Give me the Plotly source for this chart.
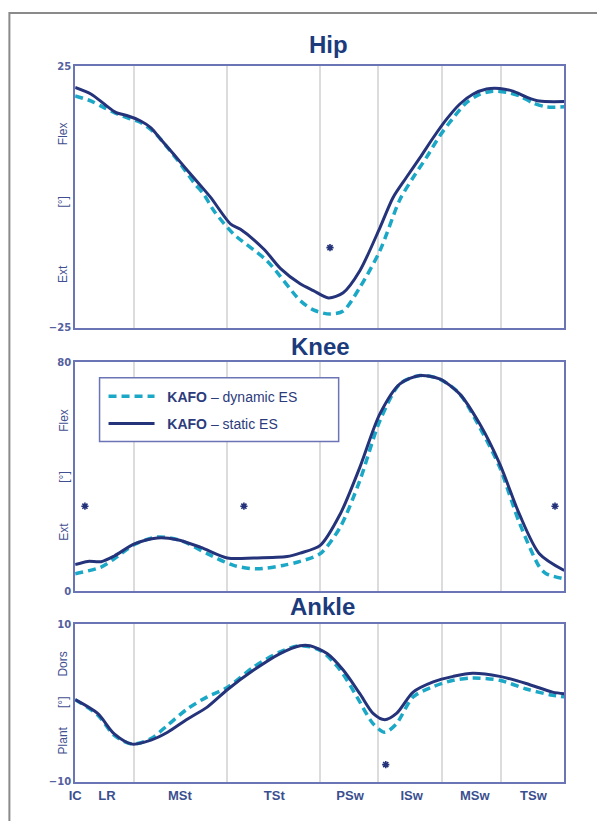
import plotly.graph_objects as go

W, H = 597, 821

# ---------------- data (gait cycle %, joint angle in degrees) ----------------
hip_static_pct = [0, 3.3, 6.0, 8.4, 10.7, 13.4, 15.5, 17.5, 20.2, 23.0, 25.7, 27.7, 31.8, 33.8, 38.6, 42.0,
                  46.0, 48.7, 51.8, 54.8, 58.2, 62.3, 65.0, 67.7, 70.5, 73.2, 75.9, 78.6, 81.3, 84.1, 86.8,
                  89.5, 92.2, 94.9, 100]
hip_static = [20.9, 19.6, 17.7, 16.1, 15.5, 14.5, 13.2, 11.0, 8.1, 5.0, 2.1, -0.1, -5.2, -6.2, -10.0, -13.7,
              -16.6, -17.9, -19.3, -18.3, -14.1, -5.9, -0.1, 3.7, 7.5, 11.3, 14.8, 17.7, 19.6, 20.6, 20.7,
              20.2, 19.1, 18.3, 18.2]
hip_dynamic_pct = [0, 3.3, 6.0, 8.7, 10.7, 13.4, 16.2, 18.9, 21.6, 24.3, 26.3, 28.4, 32.4, 39.2, 46.0, 48.7,
                   52.1, 54.8, 58.2, 62.3, 66.4, 69.1, 71.8, 74.5, 77.3, 80.0, 82.7, 85.4, 88.1, 90.8, 93.5,
                   96.3, 100]
hip_dynamic = [19.3, 18.3, 17.0, 15.8, 15.1, 14.2, 12.3, 9.4, 6.2, 2.7, 0.5, -2.7, -7.1, -12.2, -19.8, -21.6,
               -22.4, -21.8, -17.3, -10.3, -0.5, 3.7, 7.5, 11.6, 15.1, 18.0, 19.6, 20.2, 20.0, 19.3, 18.0,
               17.2, 17.2]

knee_static_pct = [0, 2.6, 5.3, 8.0, 12.1, 16.8, 20.9, 25.7, 31.1, 36.5, 43.3, 46.0, 50.1, 54.2, 58.2, 62.3,
                   66.4, 70.5, 74.5, 78.6, 82.7, 86.8, 90.8, 94.9, 100]
knee_static = [9.3, 10.4, 10.3, 12.3, 16.5, 18.6, 18.0, 15.3, 11.6, 11.6, 12.1, 13.3, 16.0, 27.0, 43.3, 62.0,
               72.5, 75.4, 74.2, 69.0, 58.5, 44.5, 27.0, 13.1, 7.2]
knee_dynamic_pct = [0, 5.3, 8.0, 12.1, 16.8, 21.6, 27.0, 32.4, 37.1, 42.5, 46.0, 50.1, 54.2, 58.2, 62.3, 66.4,
                    70.5, 74.5, 78.6, 82.7, 86.8, 90.8, 94.9, 96.3, 100]
knee_dynamic = [6.1, 8.4, 11.3, 16.3, 18.9, 17.7, 13.1, 9.0, 7.8, 9.0, 10.4, 13.1, 22.4, 38.7, 59.6, 72.5,
                75.4, 74.2, 69.0, 57.3, 43.3, 24.0, 8.5, 6.1, 4.3]

ankle_static_pct = [0, 4.6, 8.0, 11.7, 15.5, 18.9, 23.0, 27.0, 31.1, 36.5, 41.9, 46.0, 48.0, 51.5, 54.8, 58.2,
                    60.9, 63.3, 65.7, 69.1, 73.2, 77.3, 81.3, 86.8, 92.2, 97.6, 100]
ankle_static = [0.45, -1.3, -3.9, -5.2, -4.7, -3.7, -2.0, -0.5, 1.7, 4.2, 6.3, 7.3, 7.3, 6.3, 4.2, 1.2,
                -1.3, -2.1, -1.3, 1.4, 2.7, 3.4, 3.8, 3.4, 2.5, 1.4, 1.2]
ankle_dynamic_pct = [0, 4.6, 8.0, 11.7, 15.5, 18.9, 23.0, 27.0, 31.1, 36.5, 41.9, 46.0, 50.1, 54.2, 57.6, 60.9,
                     63.3, 65.7, 69.1, 73.2, 77.3, 81.3, 86.8, 92.2, 97.6, 100]
ankle_dynamic = [0.45, -1.5, -4.1, -5.2, -4.5, -2.8, -0.7, 0.8, 2.0, 4.6, 6.5, 7.3, 6.7, 4.2, 0.8, -2.6,
                 -3.7, -2.6, 0.8, 2.1, 2.9, 3.2, 2.9, 1.8, 1.0, 0.8]

# significance markers (*)
sig_hip_pct, sig_hip = [52.1], [-9.7]
sig_knee_pct, sig_knee = [2.0, 34.5, 98.1], [29.7, 29.7, 29.7]
sig_ankle_pct, sig_ankle = [63.5], [-7.8]

phase_labels = ["IC", "LR", "MSt", "TSt", "PSw", "ISw", "MSw", "TSw"]
phase_label_pos = [0, 6.5, 21.4, 40.7, 56.2, 68.8, 81.7, 93.7]
phase_bounds = [12, 31, 50, 62, 75, 87]

panel_titles = ["Hip", "Knee", "Ankle"]
series_names = ["\u00a0\u00a0<b>KAFO</b> – dynamic ES", "\u00a0\u00a0<b>KAFO</b> – static ES"]

# ---------------- styling ----------------
NAVY = "#24337a"
TEAL = "#1ba7c6"
FRAME = "#6b75b6"
GRID = "#dcdcdc"
TXT = "#3b4c8e"
TITLE = "#1c3b7c"

# compensation for the photographing step (observed shift / scale)
OX, OY, SX, SY = 5.6, 4.9, 0.992, 0.9865


def px(x):
    return ((x - OX) / SX) / W


def py(y):
    return 1 - ((y - OY) / SY) / H


xdom = [px(74), px(565)]
ydoms = [[py(327), py(65)], [py(590.7), py(361.7)], [py(781.7), py(624)]]
yranges = [[-25, 25], [0, 80], [-10, 10]]

fig = go.Figure()

panels = [
    (hip_dynamic_pct, hip_dynamic, hip_static_pct, hip_static, sig_hip_pct, sig_hip),
    (knee_dynamic_pct, knee_dynamic, knee_static_pct, knee_static, sig_knee_pct, sig_knee),
    (ankle_dynamic_pct, ankle_dynamic, ankle_static_pct, ankle_static, sig_ankle_pct, sig_ankle),
]

for i, (dx, dy, sx, sy, ax_, ay_) in enumerate(panels):
    xa = "x" if i == 0 else f"x{i+1}"
    ya = "y" if i == 0 else f"y{i+1}"
    show = (i == 1)
    fig.add_trace(go.Scatter(x=dx, y=dy, mode="lines", name=series_names[0], xaxis=xa, yaxis=ya,
                             line=dict(color=TEAL, width=3.5, dash="8px,5px", shape="spline", smoothing=0.8),
                             showlegend=show, legendgroup="dyn"))
    fig.add_trace(go.Scatter(x=sx, y=sy, mode="lines", name=series_names[1], xaxis=xa, yaxis=ya,
                             line=dict(color=NAVY, width=3, shape="spline", smoothing=0.8),
                             showlegend=show, legendgroup="sta"))
    fig.add_trace(go.Scatter(x=ax_, y=ay_, mode="markers", xaxis=xa, yaxis=ya, showlegend=False,
                             marker=dict(symbol="asterisk-open", size=6, color=NAVY,
                                         line=dict(color=NAVY, width=1.6))))

layout = dict(
    width=W, height=H, margin=dict(l=0, r=0, t=0, b=0),
    paper_bgcolor="white", plot_bgcolor="white",
    font=dict(family="Liberation Sans, Arial, sans-serif", color=TXT),
    legend=dict(x=px(102.5), y=py(380), xanchor="left", yanchor="top",
                bgcolor="rgba(0,0,0,0)", borderwidth=0, tracegroupgap=6, itemwidth=46,
                font=dict(size=14, color="#2c3b7c", family="Liberation Sans, Arial, sans-serif")),
)

for i in range(3):
    xk = "xaxis" if i == 0 else f"xaxis{i+1}"
    yk = "yaxis" if i == 0 else f"yaxis{i+1}"
    anchor_y = "y" if i == 0 else f"y{i+1}"
    anchor_x = "x" if i == 0 else f"x{i+1}"
    last = (i == 2)
    layout[xk] = dict(
        domain=xdom, anchor=anchor_y, range=[0, 100], fixedrange=True,
        showline=True, mirror=True, linecolor=FRAME, linewidth=2,
        showgrid=False, zeroline=False, ticks="",
        tickmode="array", tickvals=phase_label_pos, ticktext=phase_labels,
        showticklabels=last,
        tickfont=dict(size=13, color="#3a4f90", family="Liberation Sans, Arial, sans-serif", weight="bold"),
        minor=dict(tickmode="array", tickvals=phase_bounds, showgrid=True, gridcolor=GRID,
                   gridwidth=1.5, ticks=""),
    )
    lo, hi = yranges[i]
    layout[yk] = dict(
        domain=ydoms[i], anchor=anchor_x, range=[lo, hi], fixedrange=True,
        showline=True, mirror=True, linecolor=FRAME, linewidth=2,
        showgrid=False, zeroline=False, ticks="",
        tickmode="array", tickvals=[lo, hi],
        tickfont=dict(size=10, color="#55609e", family="DejaVu Sans, Liberation Sans, sans-serif",
                      weight="bold"),
    )

fig.update_layout(**layout)

annotations = []
# panel titles
for t, xc, yc in zip(panel_titles, [328, 320, 322], [43, 346, 606]):
    annotations.append(dict(text=f"<b>{t}</b>", x=px(xc), y=py(yc), xref="paper", yref="paper",
                            showarrow=False, xanchor="center", yanchor="middle",
                            font=dict(size=24, color=TITLE,
                                      family="Liberation Sans Narrow, Arial Narrow, Liberation Sans, Arial")))
# y-axis side labels
side_labels = [
    [("Flex", 133), ("[°]", 201.5), ("Ext", 273)],
    [("Flex", 420), ("[°]", 477), ("Ext", 531)],
    [("Dors", 664), ("[°]", 702.5), ("Plant", 740)],
]
for group in side_labels:
    for txt, yc in group:
        annotations.append(dict(text=txt, x=px(62), y=py(yc), xref="paper", yref="paper",
                                showarrow=False, textangle=-90, xanchor="center", yanchor="middle",
                                font=dict(size=12, color="#3f4f90")))
fig.update_layout(annotations=annotations)

shapes = [
    # outer gray frame (extends beyond the visible page on right/bottom)
    dict(type="rect", xref="paper", yref="paper", x0=px(8), x1=1.2, y0=-0.2, y1=py(12),
         line=dict(color="#8a8a8a", width=2), fillcolor="rgba(0,0,0,0)", layer="below"),
    # legend box
    dict(type="rect", xref="paper", yref="paper", x0=px(98.5), x1=px(338.5), y0=py(441), y1=py(377),
         line=dict(color=FRAME, width=1.5), fillcolor="white", layer="above"),
]
fig.update_layout(shapes=shapes)

post = (
    "document.documentElement.style.margin='0';"
    "document.documentElement.style.overflow='hidden';"
    "document.body.style.margin='0';document.body.style.padding='0';"
    "document.body.style.overflow='hidden';"
    "var gd=document.getElementsByClassName('plotly-graph-div')[0];"
    "if(gd){gd.style.position='fixed';gd.style.left='0px';gd.style.top='0px';}"
)

fig.write_html("out.html", config={"displayModeBar": False}, post_script=post)
